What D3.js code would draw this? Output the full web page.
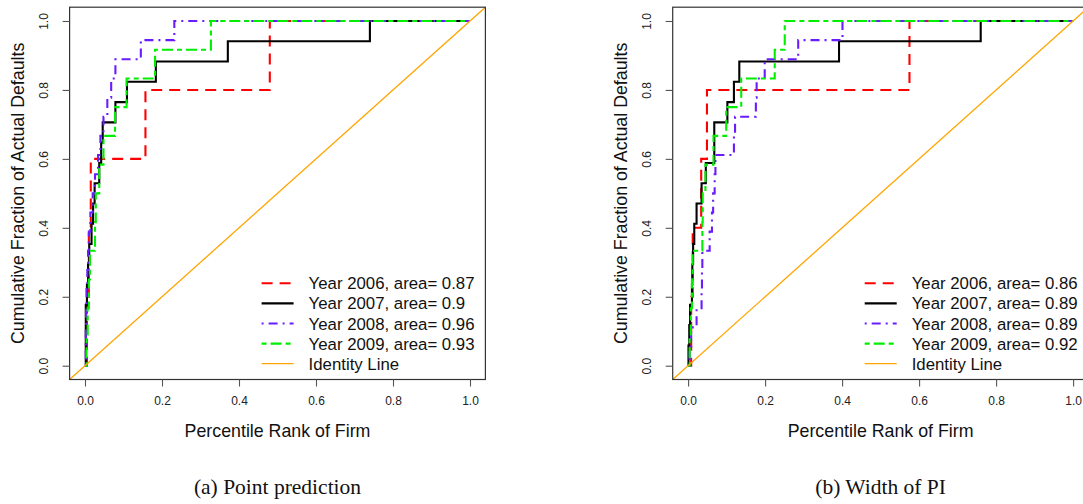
<!DOCTYPE html>
<html>
<head>
<meta charset="utf-8">
<script src="https://cdn.jsdelivr.net/npm/d3@7/dist/d3.min.js"></script>
<style>
  html, body { margin: 0; padding: 0; background: #fff; }
  svg { display: block; }
</style>
</head>
<body>
<svg id="chart" width="1083" height="504"></svg>
<script>
// Cumulative accuracy profiles: for each year, the percentile rank (x)
// at which each successive actual default is captured.
const years = ["2006", "2007", "2008", "2009"];

// (a) Point prediction
const pointX2006 = [0.005, 0.010, 0.015, 0.157, 0.480];
const pointX2007 = [0.002, 0.002, 0.002, 0.005, 0.008, 0.011, 0.017, 0.021, 0.025,
                    0.037, 0.042, 0.046, 0.079, 0.109, 0.184, 0.371, 0.740];
const pointX2008 = [0.002, 0.002, 0.003, 0.004, 0.006, 0.008, 0.010, 0.014, 0.020,
                    0.026, 0.034, 0.040, 0.048, 0.058, 0.068, 0.079, 0.145, 0.232];
const pointX2009 = [0.004, 0.007, 0.010, 0.013, 0.026, 0.028, 0.037, 0.048, 0.078,
                    0.108, 0.182, 0.327];
const pointAreas = ["0.87", "0.9", "0.96", "0.93"];

// (b) Width of PI
const widthX2006 = [0.008, 0.012, 0.034, 0.049, 0.575];
const widthX2007 = [0.001, 0.003, 0.005, 0.010, 0.011, 0.013, 0.016, 0.022, 0.035,
                    0.046, 0.068, 0.068, 0.102, 0.119, 0.133, 0.392, 0.760];
const widthX2008 = [0.004, 0.008, 0.022, 0.035, 0.036, 0.037, 0.056, 0.062, 0.065,
                    0.069, 0.071, 0.119, 0.122, 0.176, 0.178, 0.199, 0.286, 0.401];
const widthX2009 = [0.004, 0.007, 0.010, 0.012, 0.037, 0.038, 0.045, 0.066, 0.099,
                    0.138, 0.225, 0.251];
const widthAreas = ["0.86", "0.89", "0.89", "0.92"];

const tickValues = [0, 0.2, 0.4, 0.6, 0.8, 1.0];
const tickLabels = ["0.0", "0.2", "0.4", "0.6", "0.8", "1.0"];
const xTitle = "Percentile Rank of Firm";
const yTitle = "Cumulative Fraction of Actual Defaults";
const captions = ["(a) Point prediction", "(b) Width of PI"];

// Per-series line styles
const styles = [
  { color: "#ff0000", dash: "11,7" },
  { color: "#000000", dash: null },
  { color: "#6a1cff", dash: "2,5,9,5" },
  { color: "#00ee00", dash: "5,4,11,4" }
];
const identityColor = "#ffa500";

const panels = [
  { left: 69.6, series: [pointX2006, pointX2007, pointX2008, pointX2009], areas: pointAreas, caption: captions[0] },
  { left: 672.7, series: [widthX2006, widthX2007, widthX2008, widthX2009], areas: widthAreas, caption: captions[1] }
];

const W = 415.8, H = 372.3, TOP = 7.2;
const svg = d3.select("#chart");
const axisFont = "'Liberation Sans', Arial, Helvetica, sans-serif";

panels.forEach((p, pi) => {
  const x = d3.scaleLinear().domain([-0.04, 1.04]).range([p.left, p.left + W]);
  const y = d3.scaleLinear().domain([-0.04, 1.04]).range([TOP + H, TOP]);
  const g = svg.append("g");

  const clipId = "clip" + pi;
  g.append("clipPath").attr("id", clipId)
    .append("rect").attr("x", p.left).attr("y", TOP).attr("width", W).attr("height", H);

  const plot = g.append("g").attr("clip-path", `url(#${clipId})`);

  const line = d3.line().x(d => x(d[0])).y(d => y(d[1])).curve(d3.curveStepAfter);

  p.series.forEach((xs, si) => {
    const n = xs.length;
    const pts = [[0, 0]].concat(xs.map((v, i) => [v, (i + 1) / n]), [[1, 1]]);
    plot.append("path")
      .attr("d", line(pts))
      .attr("fill", "none")
      .attr("stroke", styles[si].color)
      .attr("stroke-width", 2.1)
      .attr("stroke-dasharray", styles[si].dash)
      .attr("stroke-linejoin", "miter");
  });

  // identity line across the whole plotting region
  plot.append("line")
    .attr("x1", x(-0.04)).attr("y1", y(-0.04))
    .attr("x2", x(1.04)).attr("y2", y(1.04))
    .attr("stroke", identityColor).attr("stroke-width", 1.3);

  // frame
  g.append("rect")
    .attr("x", p.left).attr("y", TOP).attr("width", W).attr("height", H)
    .attr("fill", "none").attr("stroke", "#333").attr("stroke-width", 1.2);

  // axes
  const xAxis = d3.axisBottom(x).tickValues(tickValues)
    .tickFormat((d, i) => tickLabels[i]).tickSize(7).tickPadding(10);
  const gx = g.append("g").attr("transform", `translate(0,${TOP + H})`).call(xAxis);
  gx.select(".domain").remove();
  gx.selectAll("line").attr("stroke", "#555").attr("stroke-width", 1.1);
  gx.selectAll("text").attr("font-family", axisFont).attr("font-size", 12).attr("fill", "#222");

  const yAxis = d3.axisLeft(y).tickValues(tickValues)
    .tickFormat((d, i) => tickLabels[i]).tickSize(7);
  const gy = g.append("g").attr("transform", `translate(${p.left},0)`).call(yAxis);
  gy.select(".domain").remove();
  gy.selectAll("line").attr("stroke", "#555").attr("stroke-width", 1.1);
  gy.selectAll("text")
    .attr("font-family", axisFont).attr("font-size", 12).attr("fill", "#222")
    .attr("x", null).attr("dy", null)
    .attr("text-anchor", "middle")
    .attr("transform", `translate(${-22},0) rotate(-90)`);

  // axis titles
  g.append("text")
    .attr("x", x(0.5)).attr("y", 437)
    .attr("text-anchor", "middle")
    .attr("font-family", axisFont).attr("font-size", 17.8).attr("fill", "#111")
    .text(xTitle);
  g.append("text")
    .attr("transform", `translate(${p.left - 46},${y(0.5)}) rotate(-90)`)
    .attr("text-anchor", "middle")
    .attr("font-family", axisFont).attr("font-size", 17.8).attr("fill", "#111")
    .text(yTitle);

  // caption
  g.append("text")
    .attr("x", x(0.5)).attr("y", 494)
    .attr("text-anchor", "middle")
    .attr("font-family", "'Liberation Serif', 'DejaVu Serif', serif").attr("font-size", 21.5)
    .attr("fill", "#111")
    .text(p.caption);

  // legend
  const legX = p.left + 192;
  const labels = years.map((yr, i) => `Year ${yr}, area= ${p.areas[i]}`).concat(["Identity Line"]);
  labels.forEach((lab, i) => {
    const ly = 283.3 + i * 20.1;
    const st = i < 4 ? styles[i] : { color: identityColor, dash: null };
    g.append("line")
      .attr("x1", legX).attr("x2", legX + 32)
      .attr("y1", ly).attr("y2", ly)
      .attr("stroke", st.color)
      .attr("stroke-width", i < 4 ? 2.1 : 1.3)
      .attr("stroke-dasharray", st.dash);
    g.append("text")
      .attr("x", legX + 47).attr("y", ly)
      .attr("dy", "0.36em")
      .attr("font-family", axisFont).attr("font-size", 16.8).attr("fill", "#111")
      .text(lab);
  });
});
</script>
</body>
</html>
